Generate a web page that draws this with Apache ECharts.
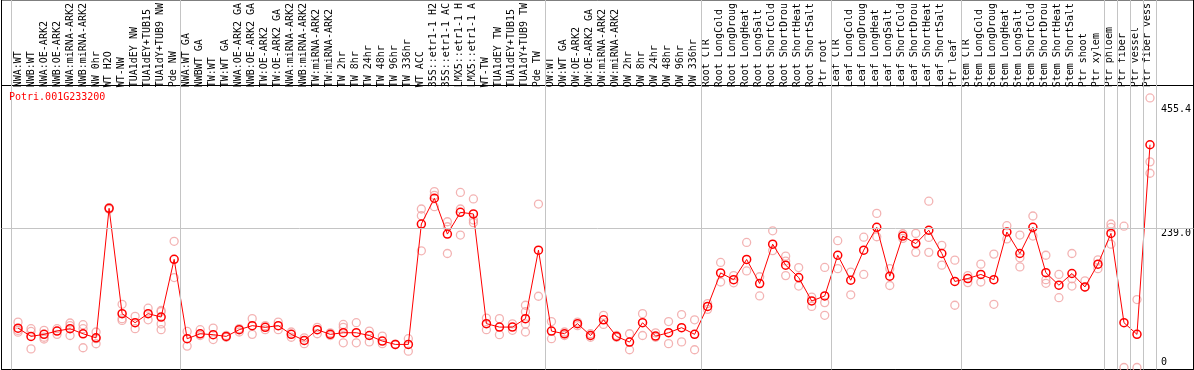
<!DOCTYPE html>
<html>
<head>
<meta charset="utf-8">
<script src="https://cdn.jsdelivr.net/npm/echarts@6/dist/echarts.min.js"></script>
<style>
html,body{margin:0;padding:0;background:#fff;}
#chart{width:1194px;height:370px;}
</style>
</head>
<body>
<div id="chart"></div>
<script>
const geneId = 'Potri.001G233200';

const categories = [
  'NWA:WT','NWB:WT','NWA:OE-ARK2','NWB:OE-ARK2','NWA:miRNA-ARK2','NWB:miRNA-ARK2','NW 0hr','WT H2O','WT-NW','TUA1dEY NW','TUA1dEY+TUB15 NW','TUA1dY+TUB9 NW','Pde NW',
  'NWA:WT GA','NWBWT GA','TW:WT','TW:WT GA','NWA:OE-ARK2 GA','NWB:OE-ARK2 GA','TW:OE-ARK2','TW:OE-ARK2 GA','NWA:miRNA-ARK2','NWB:miRNA-ARK2','TW:miRNA-ARK2','TW:miRNA-ARK2',
  'TW 2hr','TW 8hr','TW 24hr','TW 48hr','TW 96hr','TW 336hr','WT ACC','35S::etr1-1 H2O','35S::etr1-1 ACC','LMX5::etr1-1 H2O','LMX5::etr1-1 ACC','WT-TW','TUA1dEY TW','TUA1dEY+TUB15 TW','TUA1dY+TUB9 TW','Pde TW',
  'OW:WT','OW:WT GA','OW:OE-ARK2','OW:OE-ARK2 GA','OW:miRNA-ARK2','OW:miRNA-ARK2','OW 2hr','OW 8hr','OW 24hr','OW 48hr','OW 96hr','OW 336hr',
  'Root CTR','Root LongCold','Root LongDrought','Root LongHeat','Root LongSalt','Root ShortCold','Root ShortDrought','Root ShortHeat','Root ShortSalt','Ptr root',
  'Leaf CTR','Leaf LongCold','Leaf LongDrought','Leaf LongHeat','Leaf LongSalt','Leaf ShortCold','Leaf ShortDrought','Leaf ShortHeat','Leaf ShortSalt','Ptr leaf',
  'Stem CTR','Stem LongCold','Stem LongDrought','Stem LongHeat','Stem LongSalt','Stem ShortCold','Stem ShortDrought','Stem ShortHeat','Stem ShortSalt','Ptr shoot','Ptr xylem',
  'Ptr phloem','Ptr fiber','Ptr vessel','Ptr fiber vessel'
];

const groupSizes = [13, 28, 12, 10, 10, 11, 1, 1, 1, 1];

const means = [
  67.7, 53.5, 57, 62.7, 66.7, 58, 51, 273.7, 92.6, 77, 92.6, 86.8, 186,
  49.5, 58, 56.4, 53.5, 65, 72, 69, 72, 57, 46.6, 65, 57,
  59.8, 59.8, 55, 45.4, 39.7, 39.7, 246.7, 291, 229.4, 266.8, 264, 75.4, 69.5, 69.5, 84, 201.8,
  62.6, 58, 75.4, 55, 82, 53.5, 43.7, 77, 54, 59.8, 68.5, 57,
  105, 162.7, 151, 185.8, 144.4, 212, 176, 154.7, 114.4, 123,
  193, 150, 201.8, 241, 157, 226, 213, 236, 196, 148,
  153, 160, 151, 233, 196, 241, 163, 141.5, 161.6, 138.5, 177.7,
  230.6, 77, 57, 383
];

const replicates = [
  [78, 63.8, 60.8], [66.7, 62, 32], [64, 52, 49], [66.7, 57], [76.5, 72, 55], [73.6, 66.7, 34], [61, 49.5, 40.8],
  [275, 272], [108.7, 84, 81], [88, 66.7], [102, 82], [98, 96, 75, 65], [217, 154.7],
  [62, 36.8], [65, 55], [67.8, 48], [55, 52], [61, 67], [84, 57], [72, 65], [78, 65], [61, 52], [51, 41], [69, 58], [59.5, 55],
  [74, 69, 42.5], [77, 42.5], [62.7, 44], [54, 41], [40, 39], [49.5, 28],
  [272.5, 261, 200.6], [302.5, 276.5, 296], [250.6, 242, 196], [301, 272.5, 227.7], [289.8, 253.6, 249],
  [85, 65], [84, 56.4], [75, 64], [107, 96, 75, 61], [281, 122.5],
  [79, 49.5], [61, 55], [78, 72], [58, 52], [89.7, 74], [55, 52], [58, 30.5], [92.6, 55], [59.5, 52], [79, 41], [91, 44], [82, 30.5],
  [110, 100], [180.6, 147], [158, 145.6], [215, 166], [156, 123], [235, 201], [191.5, 183, 158], [171.8, 140], [121, 105], [172, 111.6, 89.7],
  [218, 170], [164, 125], [224, 160], [265, 224.8], [170, 141], [230, 222], [230.6, 198], [286, 223.7, 198], [210, 176], [184.6, 107],
  [158, 146], [177.7, 147], [195, 108.7], [243.8, 221], [227.7, 188.6, 173], [260.5, 226], [193, 151, 144.8], [160, 120], [196, 152.5, 140], [149, 138], [185, 170],
  [246.7, 240.8, 212], [243, 0], [116.8, 0], [463.5, 353.6, 334]
];

const yTickValues = [0, 239.0, 455.4];
const gridLineValue = 239.0;

// ---- layout (pixels) ----
const W = 1194;
const frameL = 1.5, frameR = 1193.5, headerBottom = 85.5, frameB = 369.5;
const catL = 11.5, catR = 1156.5;
const zeroY = 367.5, gridY = 228.5;

const nCat = categories.length;
const pxPerCat = (catR - catL) / nCat;
const XMIN = -(catL - frameL) / pxPerCat;
const XMAX = nCat + (frameR - catR) / pxPerCat;
const pxPerUnit = (zeroY - gridY) / gridLineValue;
const YMIN = -(frameB - zeroY) / pxPerUnit;
const YMAX = (zeroY - headerBottom) / pxPerUnit;

const boundaries = [0];
groupSizes.forEach(s => boundaries.push(boundaries[boundaries.length - 1] + s));

const meanData = means.map((v, i) => [i + 0.5, v]);
const repData = [];
replicates.forEach((arr, i) => arr.forEach(v => repData.push([i + 0.5, v])));

const FONT = 'DejaVu Sans Mono';
const RED = '#ff0000';
const PINK = '#f0a0a0';
const GRAY = '#c4c4c4';

const chart = echarts.init(document.getElementById('chart'), null, {renderer: 'canvas'});
chart.setOption({
  animation: false,
  backgroundColor: '#ffffff',
  title: {
    text: geneId, left: 4, top: 87,
    textStyle: {color: RED, fontFamily: FONT, fontSize: 10, fontWeight: 'normal'}
  },
  grid: [
    {left: frameL, right: W - frameR, top: -1, bottom: 370 - frameB, show: true, borderColor: '#000', borderWidth: 1, backgroundColor: 'transparent'},
    {left: frameL, right: W - frameR, top: headerBottom, bottom: 370 - frameB, show: true, borderColor: '#000', borderWidth: 1, backgroundColor: 'transparent'},
    {left: catL, right: W - catR, top: headerBottom, bottom: 370 - frameB, show: false}
  ],
  xAxis: [
    {gridIndex: 0, type: 'value', min: XMIN, max: XMAX, show: false},
    {gridIndex: 1, type: 'value', min: XMIN, max: XMAX, show: false},
    {gridIndex: 2, type: 'category', data: categories, position: 'top', boundaryGap: true,
      axisLine: {show: false}, axisTick: {show: false}, splitLine: {show: false},
      axisLabel: {interval: 0, rotate: 90, margin: 2, color: '#000', fontFamily: FONT, fontSize: 10,
        width: 86, overflow: 'truncate', ellipsis: ''}}
  ],
  yAxis: [
    {gridIndex: 0, type: 'value', min: 0, max: 1, show: false},
    {gridIndex: 1, type: 'value', min: YMIN, max: YMAX, show: false},
    {gridIndex: 2, type: 'value', min: YMIN, max: YMAX, position: 'right',
      axisLine: {show: false}, axisTick: {show: false}, splitLine: {show: false},
      axisLabel: {
        customValues: yTickValues, margin: 6.5, color: '#000', fontFamily: FONT, fontSize: 10,
        formatter: v => (Math.abs(v) < 1e-9 ? '{lo|0}' : '{hi|' + v.toFixed(1) + '}'),
        rich: {
          lo: {fontFamily: FONT, fontSize: 10, color: '#000', padding: [0, 0, 10, 0]},
          hi: {fontFamily: FONT, fontSize: 10, color: '#000', padding: [6, 0, 0, 0]}
        }
      }}
  ],
  series: [
    {
      type: 'scatter', xAxisIndex: 0, yAxisIndex: 0, data: [], silent: true, z: 1,
      markLine: {
        silent: true, symbol: 'none', label: {show: false}, animation: false,
        lineStyle: {color: GRAY, width: 1, type: 'solid'},
        data: boundaries.map(b => ({xAxis: b}))
      }
    },
    {
      type: 'scatter', xAxisIndex: 1, yAxisIndex: 1, data: [], silent: true, z: 1,
      markLine: {
        silent: true, symbol: 'none', label: {show: false}, animation: false,
        lineStyle: {color: GRAY, width: 1, type: 'solid'},
        data: [{yAxis: gridLineValue}]
      }
    },
    {
      name: 'replicates', type: 'scatter', xAxisIndex: 1, yAxisIndex: 1, data: repData, z: 3,
      symbol: 'circle', symbolSize: 8,
      itemStyle: {color: 'rgba(0,0,0,0)', borderColor: PINK, borderWidth: 1.3}
    },
    {
      name: 'mean', type: 'line', xAxisIndex: 1, yAxisIndex: 1, data: meanData, z: 4,
      symbol: 'circle', symbolSize: 8, showAllSymbol: true,
      lineStyle: {color: RED, width: 1},
      itemStyle: {color: 'rgba(0,0,0,0)', borderColor: RED, borderWidth: 1.5}
    }
  ]
});
</script>
</body>
</html>
